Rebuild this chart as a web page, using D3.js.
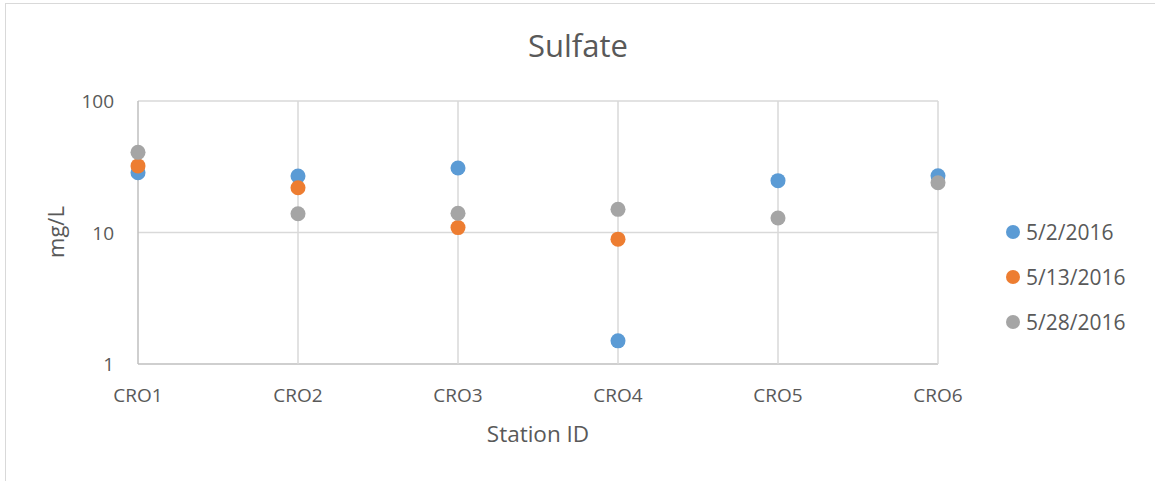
<!DOCTYPE html>
<html>
<head>
<meta charset="utf-8">
<script src="https://cdn.jsdelivr.net/npm/d3@7"></script>
<style>
  body { margin: 0; background: #fff; }
  text { font-family: "Open Sans", sans-serif; fill: #595959; }
</style>
</head>
<body>
<div id="chart"></div>
<script>
const stations = ["CRO1", "CRO2", "CRO3", "CRO4", "CRO5", "CRO6"];
const seriesNames = ["5/2/2016", "5/13/2016", "5/28/2016"];
const seriesColors = ["#5B9BD5", "#ED7D31", "#A5A5A5"];
const may2 = [28.5, 26.9, 30.9, 1.5, 24.8, 27.0];
const may13 = [32.1, 21.9, 10.9, 8.9, null, null];
const may28 = [40.7, 13.9, 14.0, 15.0, 12.9, 23.9];
const yTicks = [1, 10, 100];

const width = 1155, height = 481;
const plotLeft = 138, plotRight = 938, plotTop = 101, plotBottom = 364;

const svg = d3.select("#chart")
  .append("svg")
  .attr("width", width)
  .attr("height", height);

// chart frame (only left and top edges are visible in the crop)
svg.append("rect")
  .attr("x", 5.5).attr("y", 3.5)
  .attr("width", width + 10).attr("height", height + 10)
  .style("fill", "none")
  .style("stroke", "#D9D9D9");

const x = d3.scalePoint().domain(stations).range([plotLeft, plotRight]);
const y = d3.scaleLog().domain([1, 100]).range([plotBottom, plotTop]);

// horizontal gridlines
svg.append("g")
  .selectAll("line")
  .data(yTicks)
  .join("line")
  .attr("x1", plotLeft).attr("x2", plotRight)
  .attr("y1", d => y(d))
  .attr("y2", d => y(d))
  .style("stroke", d => d === 1 ? "#BFBFBF" : "#D9D9D9")
  .style("stroke-width", 1.5);

// vertical gridlines
svg.append("g")
  .selectAll("line")
  .data(stations)
  .join("line")
  .attr("x1", d => x(d)).attr("x2", d => x(d))
  .attr("y1", plotTop).attr("y2", plotBottom)
  .style("stroke", (d, i) => i === 0 ? "#BFBFBF" : "#D9D9D9")
  .style("stroke-width", 1.5);

// y tick labels
svg.append("g")
  .selectAll("text")
  .data(yTicks)
  .join("text")
  .attr("x", 114)
  .attr("y", d => y(d) + 7)
  .attr("text-anchor", "end")
  .style("font-size", "19px")
  .text(d => d);

// x tick labels
svg.append("g")
  .selectAll("text")
  .data(stations)
  .join("text")
  .attr("x", d => x(d))
  .attr("y", 402)
  .attr("text-anchor", "middle")
  .style("font-size", "19px")
  .text(d => d);

// title and axis titles
svg.append("text")
  .attr("x", 578).attr("y", 57)
  .attr("text-anchor", "middle")
  .style("font-size", "31px")
  .text("Sulfate");

svg.append("text")
  .attr("x", 538).attr("y", 442)
  .attr("text-anchor", "middle")
  .style("font-size", "22.5px")
  .text("Station ID");

svg.append("text")
  .attr("transform", "translate(64,232) rotate(-90)")
  .attr("text-anchor", "middle")
  .style("font-size", "22px")
  .text("mg/L");

// points
const allSeries = [may2, may13, may28];
allSeries.forEach((vals, s) => {
  svg.append("g")
    .selectAll("circle")
    .data(vals.map((v, i) => ({ station: stations[i], value: v })).filter(d => d.value != null))
    .join("circle")
    .attr("cx", d => x(d.station))
    .attr("cy", d => y(d.value))
    .attr("r", 7.5)
    .style("fill", seriesColors[s]);
});

// legend
const legend = svg.append("g")
  .selectAll("g")
  .data(seriesNames)
  .join("g")
  .attr("transform", (d, i) => `translate(1013,${232 + i * 45})`);

legend.append("circle")
  .attr("r", 7)
  .style("fill", (d, i) => seriesColors[i]);

legend.append("text")
  .attr("x", 13)
  .attr("y", 7.5)
  .style("font-size", "21px")
  .text(d => d);
</script>
</body>
</html>
